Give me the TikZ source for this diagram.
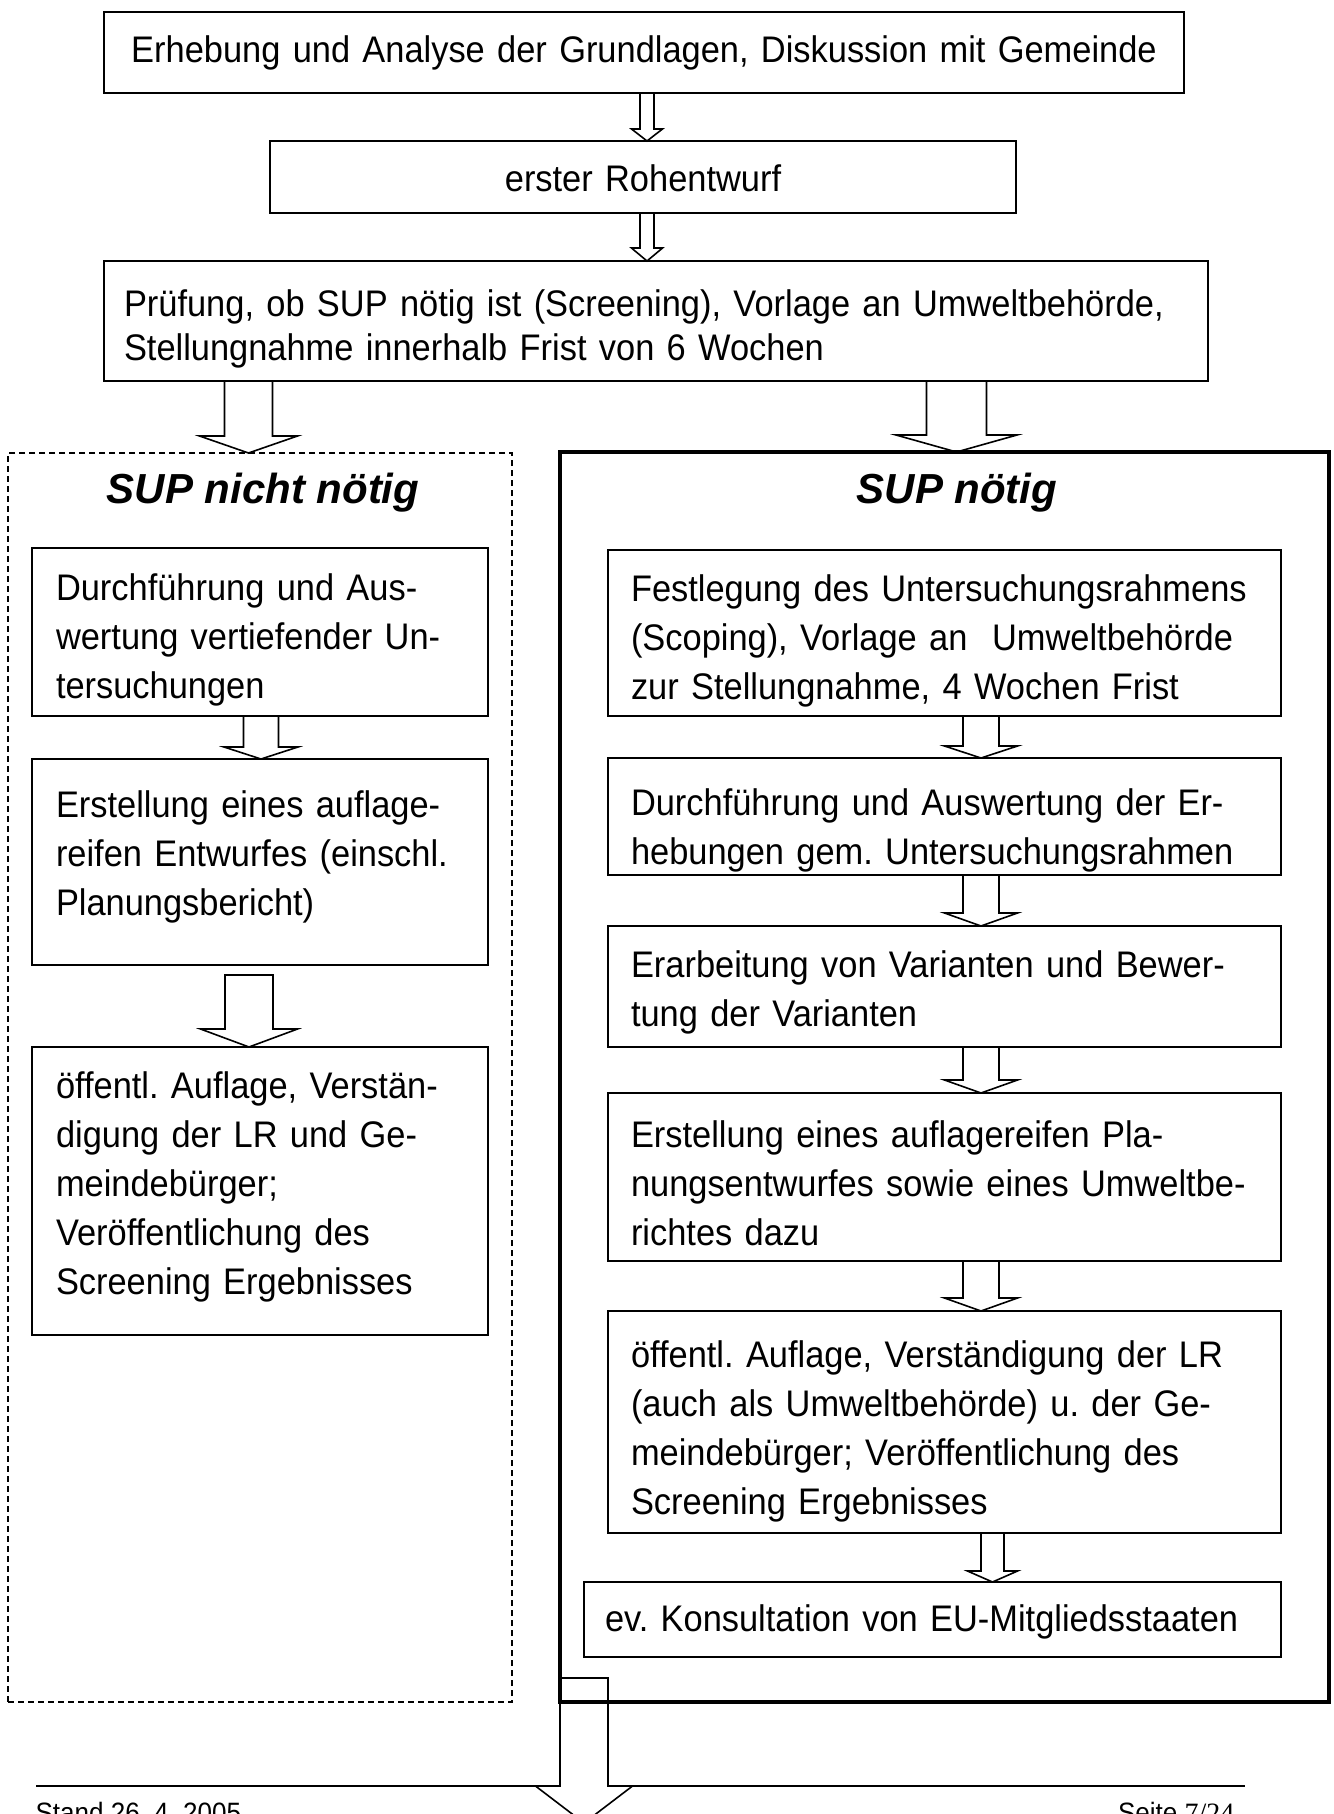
\documentclass[tikz,border=0pt]{standalone}
\usepackage{fontspec}
\setmainfont[FakeStretch=0.93]{Liberation Sans}
\newfontfamily\titlefont{Liberation Sans}
\newfontfamily\seitenfont{Liberation Serif}
\usepackage{tikz}
\usetikzlibrary{calc}
\frenchspacing

\newcommand{\blockarrow}[7][]{%
  \coordinate (ax) at (#4,0);
  \draw[arrowline,#1] ($(ax |- #2)+(-#5,0)$) -- ($(ax |- #3)+(-#5,-#7)$)
    -- ($(ax |- #3)+(-#6,-#7)$) -- (ax |- #3) -- ($(ax |- #3)+(#6,-#7)$)
    -- ($(ax |- #3)+(#5,-#7)$) -- ($(ax |- #2)+(#5,0)$) -- cycle;}

\begin{document}
\begin{tikzpicture}[x=1pt, y=-1pt,
  box/.style={draw, line width=1.8pt, anchor=north west, inner ysep=0pt, outer sep=0pt, align=left, font=\fontsize{37}{49}\selectfont},
  midbox/.style={box, align=center, inner xsep=20pt},
  leftbox/.style={box, inner xsep=24pt, text width=408pt},
  rightbox/.style={box, inner xsep=23pt, text width=627pt},
  panel/.style={draw, anchor=north west, inner sep=0pt, outer sep=0pt},
  title/.style={anchor=base, font=\titlefont\bfseries\itshape\fontsize{42}{50}\selectfont},
  foot/.style={anchor=base west, font=\fontsize{28}{34}\selectfont},
  arrowline/.style={draw, line width=1.6pt, line join=miter}]
\useasboundingbox (0,0) rectangle (1333,1814);

\draw[line width=2.5pt] (36,1786) -- (1245,1786);
\coordinate (weiter) at (584,1678);
\coordinate (ende) at (584,1823);
\blockarrow[fill=white]{weiter}{ende}{584}{24}{48.5}{37}
\node[foot] (stand) at (32,1822) {Stand 26. 4. 2005};
\node[foot, anchor=base east] (seite) at (1238,1822) {Seite {\seitenfont 7/24}};

\node[panel, line width=1.5pt, dash pattern=on 6pt off 4pt, minimum width=504pt, minimum height=1249pt] (nicht) at (8,453) {};
\node[panel, line width=3.5pt, minimum width=769pt, minimum height=1250pt] (noetig) at (560,452) {};

\node[midbox, text width=1040pt, text height=51pt, text depth=30pt] (grund) at (104,12) {Erhebung und Analyse der Grundlagen, Diskussion mit Gemeinde};
\node[midbox, text width=706pt, text height=51pt, text depth=21pt] (roh) at (270,141) {erster Rohentwurf};
\node[box, inner xsep=20pt, text width=1064pt, text height=55pt, text depth=65pt, font=\fontsize{37}{44}\selectfont] (pruef) at (104,261) {Prüfung, ob SUP nötig ist (Screening), Vorlage an Umweltbehörde,\\Stellungnahme innerhalb Frist von 6 Wochen};

\node[title] (tnicht) at (263,503) {SUP nicht nötig};
\node[title] (tnoetig) at (957,503) {SUP nötig};

\node[leftbox, text height=52pt, text depth=116pt] (l1) at (32,548) {Durchführung und Aus-\\wertung vertiefender Un-\\tersuchungen};
\node[leftbox, text height=58pt, text depth=148pt] (l2) at (32,759) {Erstellung eines auflage-\\reifen Entwurfes (einschl.\\Planungsbericht)};
\node[leftbox, text height=51pt, text depth=237pt] (l3) at (32,1047) {öffentl. Auflage, Verstän-\\digung der LR und Ge-\\meindebürger;\\Veröffentlichung des\\Screening Ergebnisses};

\node[rightbox, text height=51pt, text depth=115pt] (r1) at (608,550) {Festlegung des Untersuchungsrahmens\\(Scoping), Vorlage an~ Umweltbehörde\\zur Stellungnahme, 4 Wochen Frist};
\node[rightbox, text height=57pt, text depth=60pt] (r2) at (608,758) {Durchführung und Auswertung der Er-\\hebungen gem. Untersuchungsrahmen};
\node[rightbox, text height=51pt, text depth=70pt] (r3) at (608,926) {Erarbeitung von Varianten und Bewer-\\tung der Varianten};
\node[rightbox, text height=54pt, text depth=114pt] (r4) at (608,1093) {Erstellung eines auflagereifen Pla-\\nungsentwurfes sowie eines Umweltbe-\\richtes dazu};
\node[rightbox, text height=56pt, text depth=166pt] (r5) at (608,1311) {öffentl. Auflage, Verständigung der LR\\(auch als Umweltbehörde) u. der Ge-\\meindebürger; Veröffentlichung des\\Screening Ergebnisses};
\node[box, inner xsep=21pt, text width=655pt, text height=49pt, text depth=26pt] (r6) at (584,1582) {ev. Konsultation von EU-Mitgliedsstaaten};

\blockarrow{grund.south}{roh.north}{647}{7}{15.5}{12}
\blockarrow{roh.south}{pruef.north}{647}{7}{15.5}{13}
\blockarrow{pruef.south}{nicht.north}{248.5}{24}{49}{17}
\blockarrow{pruef.south}{noetig.north}{956.5}{30}{60.5}{17}
\blockarrow{l1.south}{l2.north}{261}{17.5}{37}{12}
\coordinate (l2gap) at ($(l2.south)+(0,10)$);
\blockarrow{l2gap}{l3.north}{249}{24}{48.5}{18}
\blockarrow{r1.south}{r2.north}{981}{18}{36.5}{12}
\blockarrow{r2.south}{r3.north}{981}{18}{36.5}{13}
\blockarrow{r3.south}{r4.north}{981}{18}{36.5}{13}
\blockarrow{r4.south}{r5.north}{981}{18}{36.5}{13}
\blockarrow{r5.south}{r6.north}{992.5}{11.5}{25}{11}
\end{tikzpicture}
\end{document}
